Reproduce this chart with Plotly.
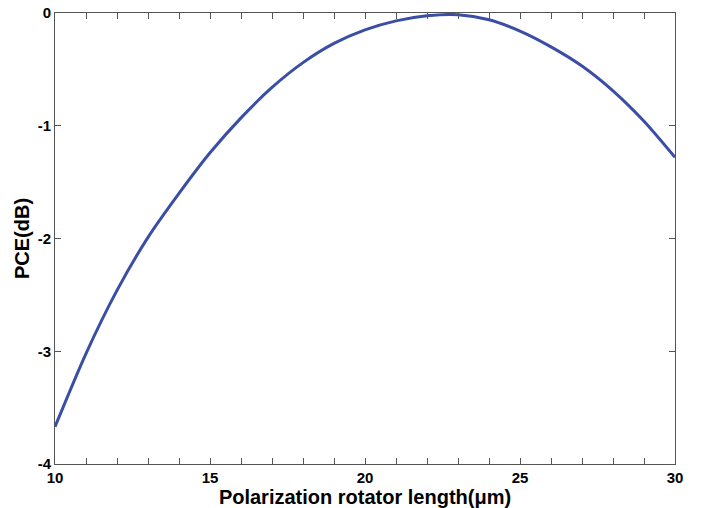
import plotly.graph_objects as go

# ─── Data ─────────────────────────────────────────────────────────────────────
length_um = [10, 11, 12, 13, 14, 15, 16, 17, 18, 19, 20,
             21, 22, 23, 24, 25, 26, 27, 28, 29, 30]
pce_db    = [-3.67, -3.02, -2.46, -1.99, -1.60, -1.24, -0.93, -0.66, -0.44, -0.27, -0.15,
             -0.07, -0.025, -0.015, -0.06, -0.16, -0.30, -0.47, -0.69, -0.96, -1.28]
y_ticks   = [0, -1, -2, -3, -4]
x_ticks   = [10, 15, 20, 25, 30]

LINE_CLR = "#3a4ea6"
AXIS_CLR = "#555555"
FONT     = "Liberation Sans, Arial, sans-serif"

fig = go.Figure(go.Scatter(
    x=length_um, y=pce_db,
    mode="lines",
    line=dict(color=LINE_CLR, width=3, shape="spline", smoothing=0.8),
    showlegend=False,
))

fig.update_layout(
    width=702, height=508,
    paper_bgcolor="white", plot_bgcolor="white",
    margin=dict(l=55, r=27, t=13, b=44, autoexpand=False),
    font=dict(family=FONT, color="black"),
    xaxis=dict(
        range=[10, 30], tickvals=x_ticks, ticktext=[str(v) for v in x_ticks],
        ticks="inside", ticklen=6, tickcolor=AXIS_CLR, tickwidth=1,
        minor=dict(dtick=1, ticks="inside", ticklen=6, tickcolor=AXIS_CLR, showgrid=False),
        showline=True, linecolor=AXIS_CLR, linewidth=1, mirror="ticks",
        showgrid=False, zeroline=False, automargin=False,
        tickfont=dict(size=15, family=FONT, weight="bold"),
        title=dict(text="Polarization rotator length(μm)", standoff=0,
                   font=dict(size=20, family=FONT, weight="bold")),
    ),
    yaxis=dict(
        range=[-4, 0], tickvals=y_ticks, ticktext=[str(v) for v in y_ticks],
        ticks="inside", ticklen=6, tickcolor=AXIS_CLR, tickwidth=1,
        showline=True, linecolor=AXIS_CLR, linewidth=1, mirror="ticks",
        showgrid=False, zeroline=False, automargin=False,
        tickfont=dict(size=15, family=FONT, weight="bold"),
        title=dict(text="PCE(dB)", standoff=2,
                   font=dict(size=20, family=FONT, weight="bold")),
    ),
)

# drop the page's default body margin so the figure sits at the window corner
fig.write_html("out.html", config={"displayModeBar": False},
               post_script="document.body.style.margin='0';")
